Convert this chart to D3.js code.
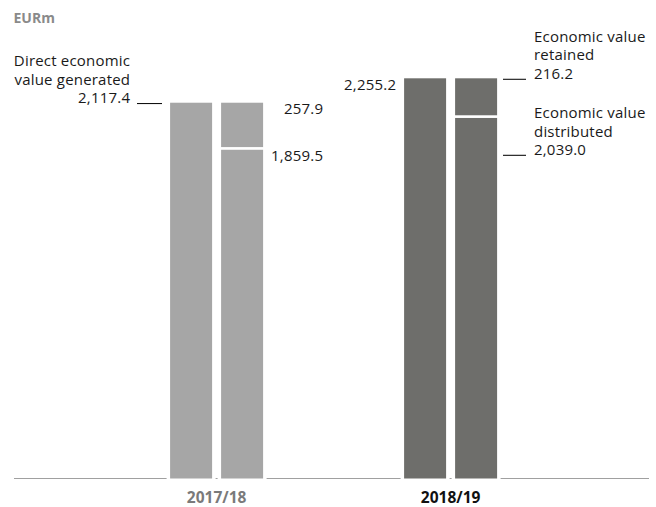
<!DOCTYPE html>
<html>
<head>
<meta charset="utf-8">
<script src="https://cdn.jsdelivr.net/npm/d3@7"></script>
<style>
  html, body { margin: 0; padding: 0; background: #fff; }
  svg { display: block; }
  text { font-family: "Open Sans", "Noto Sans", sans-serif; }
</style>
</head>
<body>
<svg id="chart" width="656" height="507"></svg>
<script>
// ---- data ----
const categories = ["2017/18", "2018/19"];
const generated = [2117.4, 2255.2];
const distributed = [1859.5, 2039.0];
const retained = [257.9, 216.2];
const unitLabel = "EURm";

// ---- layout ----
const baseY = 478, topY = 78.3;
const barColors = ["#a6a6a6", "#6e6e6b"];
const labelColors = ["#7a7a7a", "#111111"];
const fs = 15;

const svg = d3.select("#chart");

const y = d3.scaleLinear().domain([0, d3.max(generated)]).range([baseY, topY]);
const xc = d3.scalePoint().domain(categories).range([216.6, 450.6]);
const xs = d3.scaleBand().domain(["gen", "split"]).range([-46.5, 46.5]).paddingInner(0.1765);

// axis baseline
svg.append("line")
  .attr("x1", 14).attr("x2", 649)
  .attr("y1", baseY + 0.5).attr("y2", baseY + 0.5)
  .attr("stroke", "#a0a0a0").attr("stroke-width", 1.2);

const groups = svg.selectAll("g.grp")
  .data(categories.map((c, i) => ({ c, i, gen: generated[i], dist: distributed[i], ret: retained[i] })))
  .join("g").attr("class", "grp")
  .attr("transform", d => `translate(${xc(d.c)},0)`);

// white halos to cut the baseline near bars
groups.selectAll("rect.halo")
  .data(["gen", "split"])
  .join("rect").attr("class", "halo")
  .attr("x", k => xs(k) - 3.5)
  .attr("width", xs.bandwidth() + 7)
  .attr("y", baseY - 10)
  .attr("height", 14)
  .attr("fill", "#fff");

// generated bar
groups.append("rect")
  .attr("x", xs("gen"))
  .attr("width", xs.bandwidth())
  .attr("y", d => y(d.gen))
  .attr("height", d => baseY - y(d.gen) + 0.5)
  .attr("fill", d => barColors[d.i]);

// distributed segment
const gap = 1.35;
groups.append("rect")
  .attr("x", xs("split"))
  .attr("width", xs.bandwidth())
  .attr("y", d => y(d.dist) + gap)
  .attr("height", d => baseY - y(d.dist) - gap + 0.5)
  .attr("fill", d => barColors[d.i]);

// retained segment
groups.append("rect")
  .attr("x", xs("split"))
  .attr("width", xs.bandwidth())
  .attr("y", d => y(d.dist + d.ret))
  .attr("height", d => y(d.dist) - y(d.dist + d.ret) - gap)
  .attr("fill", d => barColors[d.i]);

// category labels
svg.selectAll("text.cat")
  .data(categories)
  .join("text").attr("class", "cat")
  .attr("x", d => xc(d))
  .attr("y", 503)
  .attr("text-anchor", "middle")
  .attr("font-size", 15.5)
  .attr("font-weight", "bold")
  .attr("fill", (d, i) => labelColors[i])
  .text(d => d);

// unit label
svg.append("text")
  .attr("x", 13.5).attr("y", 22.5)
  .attr("font-size", 14).attr("font-weight", "bold")
  .attr("fill", "#8a8a8a")
  .text(unitLabel);

const fmt = d3.format(",.1f");
const txtColor = "#1a1a1a";

function addText(x, yy, str, anchor) {
  svg.append("text")
    .attr("x", anchor === "end" ? x + 0.2 : x).attr("y", yy)
    .attr("text-anchor", anchor || "start")
    .attr("font-size", fs)
    .attr("letter-spacing", 0.2)
    .attr("fill", txtColor)
    .text(str);
}
function addLeader(x1, x2, yy) {
  svg.append("line")
    .attr("x1", x1).attr("x2", x2)
    .attr("y1", yy).attr("y2", yy)
    .attr("stroke", "#111").attr("stroke-width", 1.1);
}

// 2017/18 annotations
const y0 = y(generated[0]);
addText(130, y0 - 36.3, "Direct economic", "end");
addText(130, y0 - 18.1, "value generated", "end");
addText(130, y0 + 0.6, fmt(generated[0]), "end");
addLeader(137, 162, y0 + 0.8);
addText(323, y0 + 11.3, fmt(retained[0]), "end");
addText(323, y(distributed[0]) + 12.6, fmt(distributed[0]), "end");

// 2018/19 annotations
const y1 = y(generated[1]);
addText(396, y1 + 11.7, fmt(generated[1]), "end");
addText(534, y1 - 36.6, "Economic value");
addText(534, y1 - 18.3, "retained");
addText(534, y1 + 1, fmt(retained[1]));
addLeader(503, 526, y1 + 1);
const yd = y(distributed[1]);
addText(534, yd + 1.6, "Economic value");
addText(534, yd + 20, "distributed");
addText(534, yd + 38.4, fmt(distributed[1]));
addLeader(503, 526, yd + 38.7);
</script>
</body>
</html>
